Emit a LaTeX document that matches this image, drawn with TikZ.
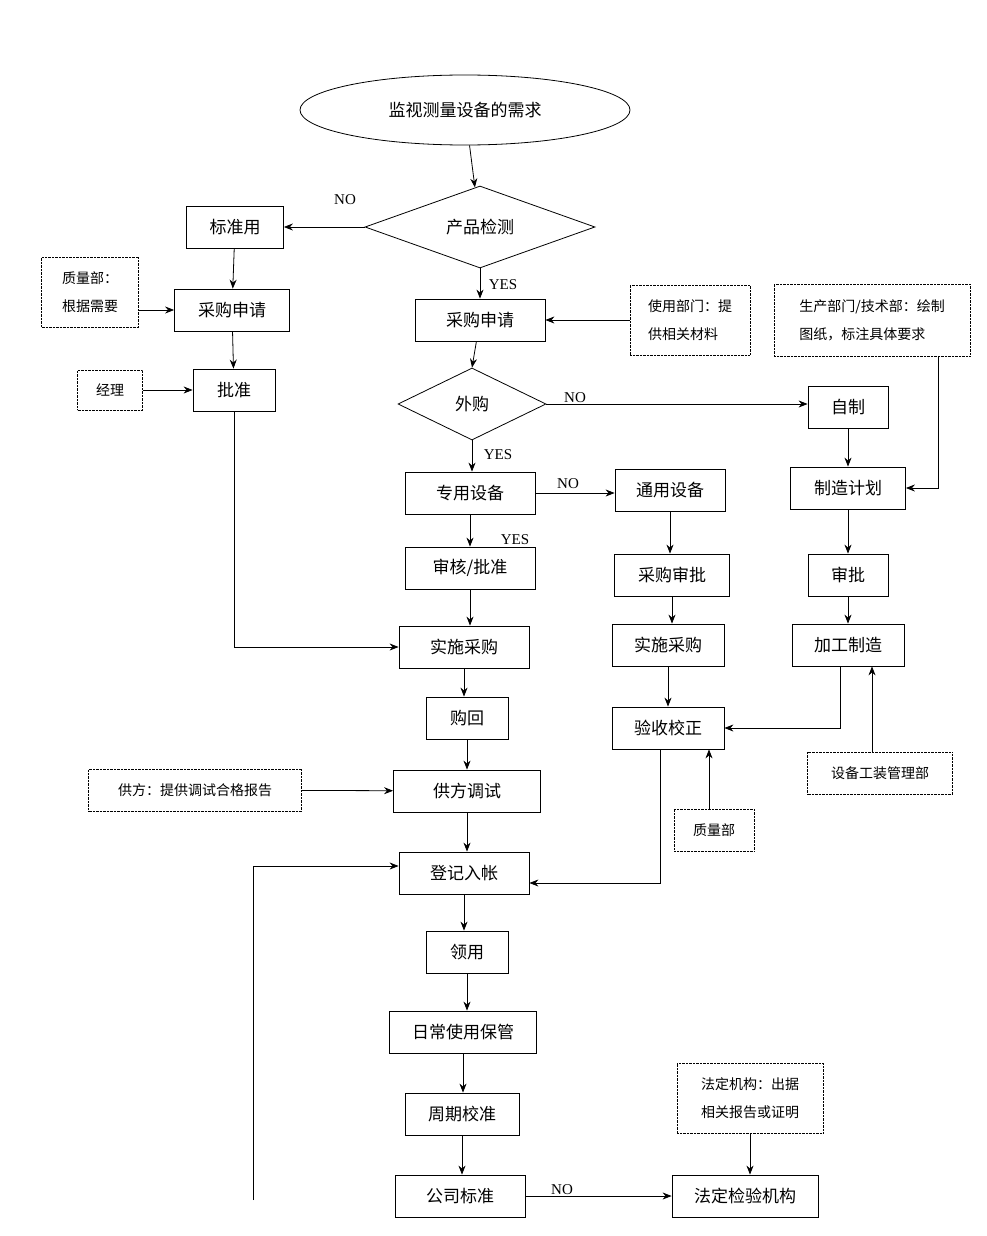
\documentclass[tikz,border=0pt]{standalone}
\usepackage{fontspec}
\setmainfont{Liberation Serif}
\newfontfamily\cjk{Noto Sans CJK SC}
\usetikzlibrary{shapes.geometric,arrows.meta}
\tikzset{
	box/.style = {draw, thick, minimum height=42pt, inner sep=2pt, font=\cjk\fontsize{17}{20}\selectfont},
	note/.style = {draw, densely dotted, align=left, inner sep=2pt, font=\cjk\fontsize{14}{28}\selectfont},
	lbl/.style = {font=\fontsize{15}{17}\selectfont},
	arr/.style = {-{Stealth[length=9pt,width=7pt]}, thick}
}
\begin{document}
\begin{tikzpicture}[x=1pt, y=-1pt]
	\useasboundingbox (0,0) rectangle (987,1236);

	\node[box, ellipse, minimum width=330pt, minimum height=70pt] (need) at (465,110) {监视测量设备的需求};
	\node[box, diamond, aspect=2.8, minimum width=230pt, minimum height=82pt, inner sep=0pt] (check) at (480,227) {产品检测};
	\node[box, minimum width=97pt] (std) at (235,227) {标准用};
	\node[note, minimum width=97pt, minimum height=70pt] (qa1) at (90,292) {质量部：\\根据需要};
	\node[box, minimum width=115pt] (applyL) at (232,310) {采购申请};
	\node[note, minimum width=65pt, minimum height=40pt] (mgr) at (110,390) {经理};
	\node[box, minimum width=82pt] (appr) at (234,390) {批准};
	\node[box, minimum width=130pt] (applyR) at (480,320) {采购申请};
	\node[note, minimum width=120pt, minimum height=70pt] (user) at (690,320) {使用部门：提\\供相关材料};
	\node[note, minimum width=196pt, minimum height=72pt] (prod) at (872,320) {生产部门/技术部：绘制\\图纸，标注具体要求};
	\node[box, diamond, aspect=2, minimum width=148pt, minimum height=72pt, inner sep=0pt] (buy) at (472,404) {外购};
	\node[box, minimum width=80pt] (self) at (848,407) {自制};
	\node[box, minimum width=130pt] (spec) at (470,493) {专用设备};
	\node[box, minimum width=110pt] (gen) at (670,490) {通用设备};
	\node[box, minimum width=115pt] (plan) at (848,488) {制造计划};
	\node[box, minimum width=130pt] (audit) at (470,568) {审核/批准};
	\node[box, minimum width=115pt] (gappr) at (672,575) {采购审批};
	\node[box, minimum width=80pt] (mappr) at (848,575) {审批};
	\node[box, minimum width=130pt] (doL) at (464,647) {实施采购};
	\node[box, minimum width=112pt] (doR) at (668,645) {实施采购};
	\node[box, minimum width=112pt] (make) at (848,645) {加工制造};
	\node[box, minimum width=82pt] (back) at (467,718) {购回};
	\node[box, minimum width=112pt] (accept) at (668,728) {验收校正};
	\node[note, minimum width=145pt, minimum height=42pt] (tool) at (880,773) {设备工装管理部};
	\node[note, minimum width=213pt, minimum height=42pt] (supn) at (195,790) {供方：提供调试合格报告};
	\node[box, minimum width=147pt] (sup) at (467,791) {供方调试};
	\node[note, minimum width=80pt, minimum height=42pt] (qa2) at (714,830) {质量部};
	\node[box, minimum width=130pt] (reg) at (464,873) {登记入帐};
	\node[box, minimum width=82pt] (take) at (467,952) {领用};
	\node[box, minimum width=147pt] (keep) at (463,1032) {日常使用保管};
	\node[box, minimum width=114pt] (cal) at (462,1114) {周期校准};
	\node[note, minimum width=146pt, minimum height=70pt] (legn) at (750,1098) {法定机构：出据\\相关报告或证明};
	\node[box, minimum width=130pt] (comp) at (460,1196) {公司标准};
	\node[box, minimum width=146pt] (leg) at (745,1196) {法定检验机构};
	\coordinate (loop) at (253,1200);

	\node[lbl] at (345,200) {NO};
	\node[lbl] at (503,285) {YES};
	\node[lbl] at (575,398) {NO};
	\node[lbl] at (498,455) {YES};
	\node[lbl] at (568,484) {NO};
	\node[lbl] at (515,540) {YES};
	\node[lbl] at (562,1190) {NO};

	\draw[arr] (need) -- (check);
	\draw[arr] (check.west) -- (std.east);
	\draw[arr] (std) -- (applyL);
	\draw[arr] (qa1.east |- applyL) -- (applyL);
	\draw[arr] (applyL) -- (appr);
	\draw[arr] (mgr) -- (appr);
	\draw[arr] (appr) |- (doL);
	\draw[arr] (check.south) -- (applyR);
	\draw[arr] (user.west |- applyR) -- (applyR);
	\draw[arr] (applyR) -- (buy.north);
	\draw[arr] (buy.east) -- (self.west |- buy.east);
	\draw[arr] (buy.south) -- (buy.south |- spec.north);
	\draw[arr] ([xshift=66pt]prod.south) |- (plan.east);
	\draw[arr] (self) -- (plan);
	\draw[arr] (plan) -- (mappr);
	\draw[arr] (mappr) -- (make);
	\draw[arr] ([xshift=-8pt]make.south) |- (accept.east);
	\draw[arr] (tool.north -| 872,0) -- (make.south -| 872,0);
	\draw[arr] (spec.east) -- (gen.west |- spec.east);
	\draw[arr] (spec) -- (audit);
	\draw[arr] (audit) -- (audit |- doL.north);
	\draw[arr] (gen) -- (gen |- gappr.north);
	\draw[arr] (gappr) -- (gappr |- doR.north);
	\draw[arr] (doR) -- (accept);
	\draw[arr] ([xshift=-5pt]qa2.north) -- ([xshift=41pt]accept.south);
	\draw[arr] ([xshift=-8pt]accept.south) |- ([yshift=-10pt]reg.east);
	\draw[arr] (doL) -- (doL |- back.north);
	\draw[arr] (back) -- (back |- sup.north);
	\draw[arr] (supn) -- (sup);
	\draw[arr] (sup) -- (sup |- reg.north);
	\draw[arr] (reg) -- (reg |- take.north);
	\draw[arr] (take) -- (take |- keep.north);
	\draw[arr] (keep) -- (keep |- cal.north);
	\draw[arr] (cal) -- (cal |- comp.north);
	\draw[arr] (comp) -- (leg);
	\draw[arr] (legn) -- (legn |- leg.north);
	\draw[arr] (loop) |- ([yshift=7pt]reg.west);
\end{tikzpicture}
\end{document}
